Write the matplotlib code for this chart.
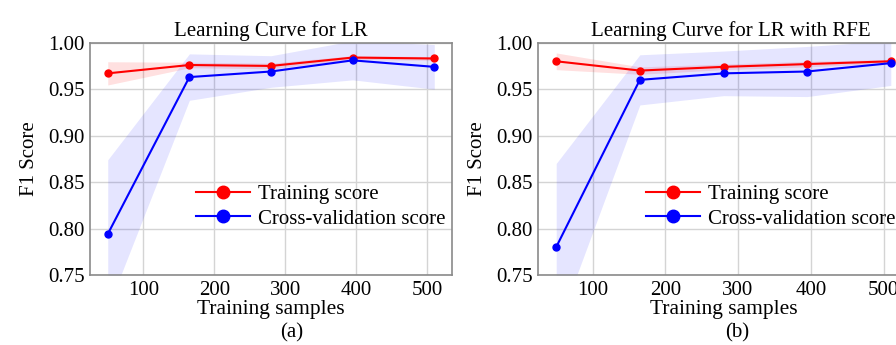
import numpy as np
import matplotlib.pyplot as plt

plt.rcParams['font.family'] = ['Liberation Serif', 'DejaVu Serif']

# training set sizes
train_sizes = [50, 165, 280, 395, 510]

# panel (a): LR
train_a = [0.967, 0.976, 0.975, 0.984, 0.983]
train_a_std = [0.0125, 0.003, 0.003, 0.002, 0.002]
cv_a = [0.794, 0.963, 0.969, 0.981, 0.974]
cv_a_std = [0.080, 0.025, 0.017, 0.021, 0.024]

# panel (b): LR with RFE
train_b = [0.980, 0.970, 0.974, 0.977, 0.980]
train_b_std = [0.009, 0.004, 0.003, 0.003, 0.002]
cv_b = [0.780, 0.960, 0.967, 0.969, 0.978]
cv_b_std = [0.090, 0.027, 0.024, 0.027, 0.024]

titles = ['Learning Curve for LR', 'Learning Curve for LR with RFE']
captions = ['(a)', '(b)']

fig = plt.figure(figsize=(8.96, 3.45), dpi=100)
ax_a = fig.add_axes([90/896, 70/345, 362/896, 232.3/345])
ax_b = fig.add_axes([538/896, 70/345, 371/896, 232.3/345])

panels = [
    (ax_a, train_a, train_a_std, cv_a, cv_a_std),
    (ax_b, train_b, train_b_std, cv_b, cv_b_std),
]

for i, (ax, tr, tr_s, cv, cv_s) in enumerate(panels):
    x = np.array(train_sizes)
    tr, tr_s, cv, cv_s = map(np.array, (tr, tr_s, cv, cv_s))
    ax.fill_between(x, tr - tr_s, tr + tr_s, color='red', alpha=0.12, lw=0)
    ax.fill_between(x, cv - cv_s, cv + cv_s, color='blue', alpha=0.1, lw=0)
    ax.plot(x, tr, 'o-', color='red', lw=1.5, ms=5, label='Training score')
    ax.plot(x, cv, 'o-', color='blue', lw=1.5, ms=5, label='Cross-validation score')

    ax.set_xlim(25, 535)
    ax.set_ylim(0.75, 1.0)
    ax.set_xticks([100, 200, 300, 400, 500])
    ax.set_yticks([0.75, 0.80, 0.85, 0.90, 0.95, 1.00])
    ax.set_yticklabels(['%.2f' % v for v in ax.get_yticks()])
    ax.tick_params(length=0, labelsize=15, pad=4)
    ax.grid(color='#d4d4d4', lw=1)
    ax.set_axisbelow(True)
    for s in ax.spines.values():
        s.set_color('#8a8a8a')
        s.set_linewidth(1.2)

    ax.set_title(titles[i], fontsize=15, pad=5, x=0.5 if i == 0 else 0.52)
    ax.set_xlabel('Training samples', fontsize=15.5, labelpad=0)
    ax.set_ylabel('F1 Score', fontsize=15, labelpad=6)
    ax.legend(loc='center left', bbox_to_anchor=(0.24, 0.295), frameon=False,
              fontsize=15, handlelength=2.6, markerscale=1.8,
              labelspacing=0.25, handletextpad=0.4)

fig.text(292/896, 1 - 333/345, captions[0], ha='center', va='center', fontsize=15)
fig.text(737/896, 1 - 333/345, captions[1], ha='center', va='center', fontsize=15)

fig.savefig('out.png', dpi=100)
